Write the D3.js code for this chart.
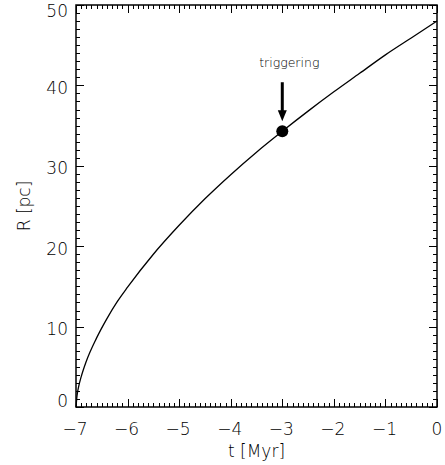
<!DOCTYPE html>
<html>
<head>
<meta charset="utf-8">
<script src="https://cdn.jsdelivr.net/npm/d3@7"></script>
<style>
  body { margin: 0; background: #fff; }
  text { font-family: "DejaVu Sans", "Liberation Sans", sans-serif; font-weight: 300; fill: #000; }
</style>
</head>
<body>
<div class="board"></div>
<script>
// data
var tValues = [-7, -6.98, -6.95, -6.9, -6.8, -6.6, -6.4, -6.2, -6, -5.5, -5, -4.5, -4, -3.5, -3, -2.5, -2, -1.5, -1, -0.5, 0];
var rValues = [0, 1.4, 2.5, 3.75, 5.7, 8.6, 11.0, 13.1, 14.9, 19.0, 22.6, 25.9, 28.9, 31.7, 34.3, 36.8, 39.2, 41.5, 43.8, 45.9, 48.0];
var xTicks = [-7, -6, -5, -4, -3, -2, -1, 0];
var yTicks = [0, 10, 20, 30, 40, 50];
var trigger = {t: -3, r: 34.3, label: 'triggering'};

var settings = {
  w: 445,
  h: 465,
  left: 76,
  right: 437,
  top: 5,
  bottom: 407
};

var svg = d3.select('.board')
  .append('svg')
  .attr('width', settings.w)
  .attr('height', settings.h)
  .style('display', 'block');

var x = d3.scaleLinear().domain([-7, 0]).range([settings.left, settings.right]);
var y = d3.scaleLinear().domain([0, 50]).range([settings.bottom, settings.top]);

var minorX = d3.range(-70, 1).map(function(d) { return d / 10; });
var minorY = d3.range(0, 51);

// inward ticks on all four sides
var axisG = svg.append('g').attr('stroke', '#000').attr('stroke-width', 1);

function tickLen(major) { return major ? 8 : 4; }

minorX.forEach(function(d) {
  var major = Math.abs(d - Math.round(d)) < 1e-6;
  var px = Math.round(x(d)) + 0.5;
  axisG.append('line').attr('x1', px).attr('x2', px)
    .attr('y1', settings.bottom).attr('y2', settings.bottom - tickLen(major));
  axisG.append('line').attr('x1', px).attr('x2', px)
    .attr('y1', settings.top).attr('y2', settings.top + tickLen(major));
});

minorY.forEach(function(d) {
  var major = d % 10 === 0;
  var py = Math.round(y(d)) + 0.5;
  axisG.append('line').attr('y1', py).attr('y2', py)
    .attr('x1', settings.left).attr('x2', settings.left + tickLen(major));
  axisG.append('line').attr('y1', py).attr('y2', py)
    .attr('x1', settings.right).attr('x2', settings.right - tickLen(major));
});

svg.append('rect')
  .attr('x', settings.left)
  .attr('y', settings.top)
  .attr('width', settings.right - settings.left)
  .attr('height', settings.bottom - settings.top)
  .attr('fill', 'none')
  .attr('stroke', '#000')
  .attr('stroke-width', 1.5);

// tick labels
var fmt = d3.format('d');

svg.selectAll('.xlab')
  .data(xTicks)
  .enter()
  .append('text')
  .attr('class', 'xlab')
  .attr('x', function(d) { return x(d) + (d < 0 ? -1 : 0); })
  .attr('y', 435)
  .attr('text-anchor', 'middle')
  .style('font-size', '17px')
  .text(function(d) { return d < 0 ? '\u2212' + Math.abs(d) : fmt(d); });

// end labels are kept inside the frame, like the original
svg.selectAll('.ylab')
  .data(yTicks)
  .enter()
  .append('text')
  .attr('class', 'ylab')
  .attr('x', 68)
  .attr('y', function(d) {
    if (d === 0) return y(d);
    if (d === 50) return y(d) + 12;
    return y(d) + 8.5;
  })
  .attr('text-anchor', 'end')
  .style('font-size', '17px')
  .text(fmt);

svg.append('text')
  .attr('x', (settings.left + settings.right) / 2)
  .attr('y', 456.5)
  .attr('text-anchor', 'middle')
  .style('font-size', '17px')
  .text('t  [Myr]');

svg.append('text')
  .attr('transform', 'translate(30,' + (settings.top + settings.bottom) / 2 + ') rotate(-90)')
  .attr('text-anchor', 'middle')
  .style('font-size', '17px')
  .text('R  [pc]');

// the curve
var line = d3.line()
  .x(function(d, i) { return x(tValues[i]); })
  .y(function(d) { return y(d); })
  .curve(d3.curveMonotoneX);

svg.append('path')
  .datum(rValues)
  .attr('d', line)
  .attr('fill', 'none')
  .attr('stroke', '#000')
  .attr('stroke-width', 1.3);

// triggering marker
var tx = x(trigger.t), ty = y(trigger.r);

svg.append('circle')
  .attr('cx', tx)
  .attr('cy', ty)
  .attr('r', 6)
  .attr('fill', '#000');

svg.append('line')
  .attr('x1', tx).attr('x2', tx)
  .attr('y1', ty - 49).attr('y2', ty - 20)
  .attr('stroke', '#000')
  .attr('stroke-width', 3);

svg.append('path')
  .attr('d', 'M' + (tx - 4.5) + ',' + (ty - 21) + 'L' + (tx + 4.5) + ',' + (ty - 21) + 'L' + tx + ',' + (ty - 10) + 'Z')
  .attr('fill', '#000');

svg.append('text')
  .attr('x', tx + 7)
  .attr('y', ty - 64)
  .attr('text-anchor', 'middle')
  .style('font-size', '12.5px')
  .text(trigger.label);
</script>
</body>
</html>
